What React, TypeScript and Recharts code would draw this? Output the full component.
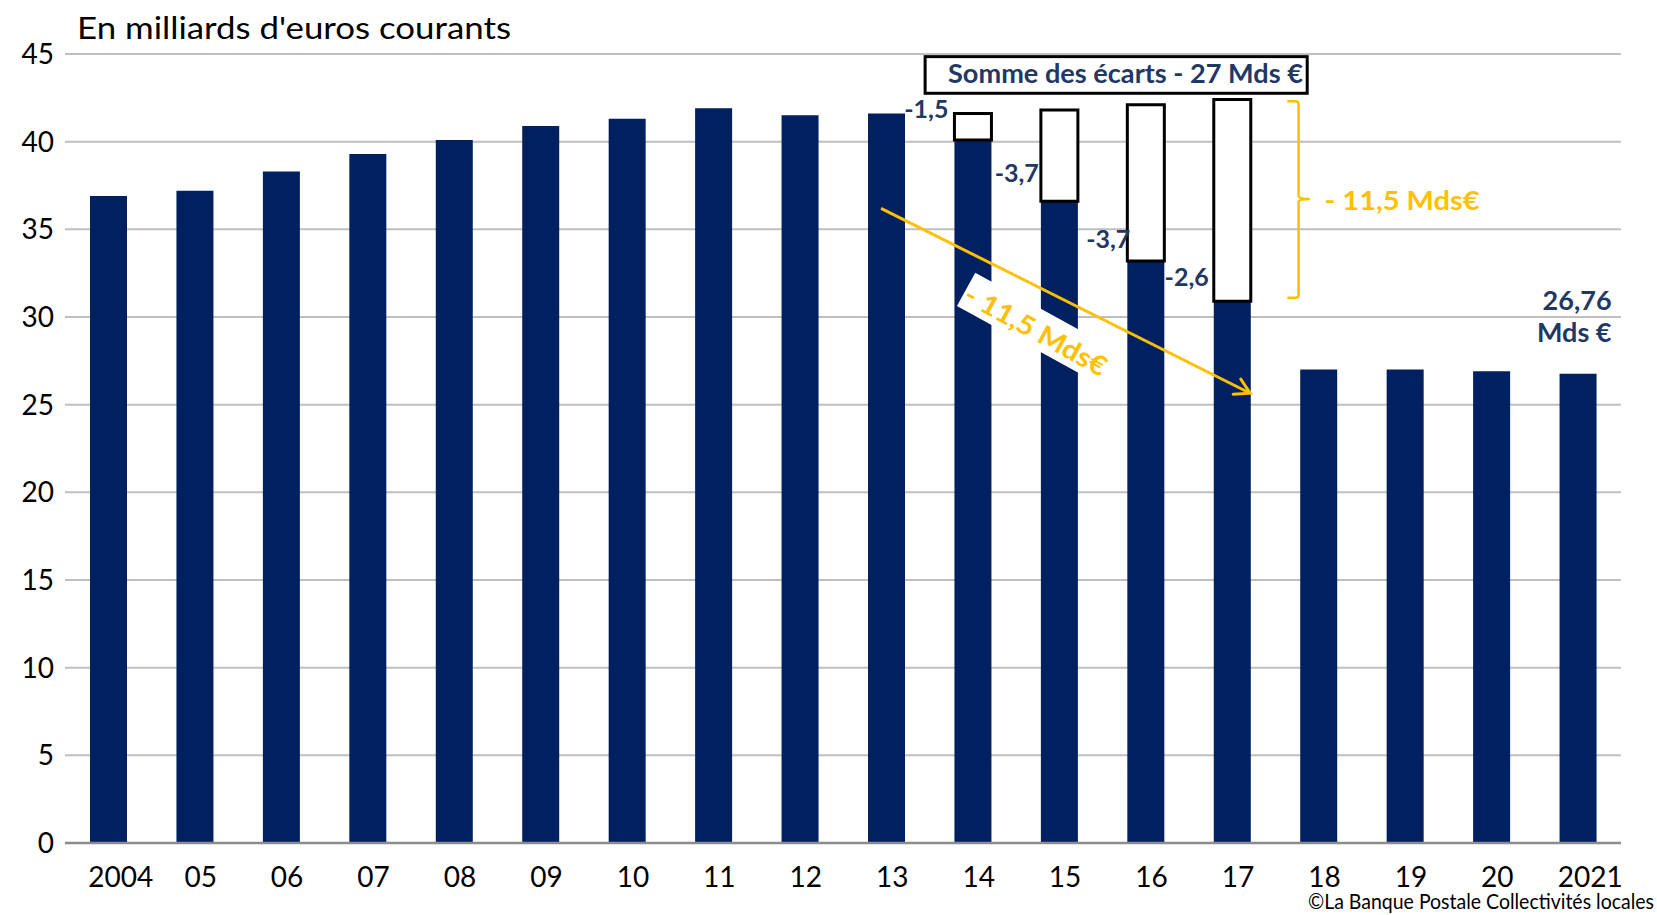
import React from 'react';
import { BarChart, Bar, XAxis, YAxis, CartesianGrid, LabelList } from 'recharts';

// ---------- data ----------
const years = ['2004', '05', '06', '07', '08', '09', '10', '11', '12', '13', '14', '15', '16', '17', '18', '19', '20', '2021'];
const depenses = [36.9, 37.2, 38.3, 39.3, 40.1, 40.9, 41.3, 41.9, 41.5, 41.6, 40.1, 36.6, 33.2, 30.9, 27.0, 27.0, 26.9, 26.76];
const ecartsCumules = [null, null, null, null, null, null, null, null, null, null, 1.5, 5.2, 8.9, 11.5, null, null, null, null];
const ecartsAnnuels = [null, null, null, null, null, null, null, null, null, null, -1.5, -3.7, -3.7, -2.6, null, null, null, null];
const yTicks = [0, 5, 10, 15, 20, 25, 30, 35, 40, 45];

const data = years.map((y, i) => ({ year: y, idx: i, value: depenses[i], gap: ecartsCumules[i] }));

// ---------- layout / style ----------
const W = 1657;
const H = 915;
const M = { top: 54, right: 36, bottom: 42, left: 5 };
const Y_AXIS_W = 60;
const X_AXIS_H = 30;
const PLOT = { left: M.left + Y_AXIS_W, top: M.top, right: W - M.right, bottom: H - M.bottom - X_AXIS_H };
const Y_MAX = 45;
const BAND = (PLOT.right - PLOT.left) / years.length;
const toX = (i: number) => PLOT.left + (i + 0.5) * BAND;
const toY = (v: number) => PLOT.bottom - (v / Y_MAX) * (PLOT.bottom - PLOT.top);

const NAVY = '#002060';
const LABEL = '#1F3864';
const GOLD = '#FFC000';
const FONT = 'Lato, "Open Sans", sans-serif';

const fmt = (v: number) => v.toFixed(1).replace('.', ',');

// per-label nudges (px) for the yearly gap labels
const gapLabelDx: Record<number, number> = { 10: -6, 11: -2, 12: 3, 13: -5 };
const gapLabelDy: Record<number, number> = { 10: -22, 11: -19, 12: -13, 13: -15 };

const XTick = (props: any) => {
  const { x, y, payload } = props;
  const s = String(payload.value);
  const dx = s.length === 4 ? 12.5 : 6;
  return (
    <text x={x + dx} y={y + 44} textAnchor="middle" fontFamily={FONT} fontSize={28} fill="#000">
      {s}
    </text>
  );
};

const GapLabel = (props: any) => {
  const index = Number(props.value);
  const vb = props.viewBox || props;
  if (!Number.isFinite(index)) return null;
  const v = ecartsAnnuels[index];
  if (v == null) return null;
  const bottom = vb.y + vb.height;
  return (
    <text
      x={vb.x + (gapLabelDx[index] ?? -3)}
      y={bottom + (gapLabelDy[index] ?? -17)}
      textAnchor="end"
      fontFamily={FONT}
      fontWeight={700}
      fontSize={25}
      fill={LABEL}
    >
      {fmt(v)}
    </text>
  );
};

const LastLabel = (props: any) => {
  const index = Number(props.value);
  const vb = props.viewBox || props;
  if (index !== years.length - 1) return null;
  const xr = vb.x + vb.width + 15;
  return (
    <text textAnchor="end" fontFamily={FONT} fontWeight={700} fontSize={27} fill={LABEL}>
      <tspan x={xr} y={vb.y - 63.5}>{String(depenses[index]).replace('.', ',')}</tspan>
      <tspan x={xr} y={vb.y - 31.5}>Mds €</tspan>
    </text>
  );
};

// annotation anchors expressed in chart space (category index, value)
const ANN = {
  somme: { i0: 9.45, i1: 13.87, v0: 44.85, v1: 42.76, textV: 43.35 },
  bracket: { i: 13.77, hook: 13.64, spur: 13.9, vTop: 42.3, vBot: 31.1, vMid: 36.73 },
  bracketText: { i: 14.07, v: 36.1 },
  arrow: { i0: 8.94, v0: 36.2, i1: 13.21, v1: 25.65 },
  rotLabel: { i: 10.03, v: 32.53, angle: 28.8 },
};

const Overlay = () => {
  const s = ANN.somme;
  const sx0 = toX(s.i0), sx1 = toX(s.i1), sy0 = toY(s.v0), sy1 = toY(s.v1);
  const b = ANN.bracket;
  const bx = toX(b.i), bh = toX(b.hook), bs = toX(b.spur);
  const byT = toY(b.vTop), byB = toY(b.vBot), byM = toY(b.vMid);
  const a = ANN.arrow;
  const ax0 = toX(a.i0), ay0 = toY(a.v0), ax1 = toX(a.i1), ay1 = toY(a.v1);
  const ang = Math.atan2(ay1 - ay0, ax1 - ax0);
  const headLen = 17;
  const h1x = ax1 - headLen * Math.cos(ang - Math.PI / 6);
  const h1y = ay1 - headLen * Math.sin(ang - Math.PI / 6);
  const h2x = ax1 - headLen * Math.cos(ang + Math.PI / 6);
  const h2y = ay1 - headLen * Math.sin(ang + Math.PI / 6);
  const r = ANN.rotLabel;
  const rx = toX(r.i), ry = toY(r.v);
  return (
    <svg width={W} height={H} style={{ position: 'absolute', left: 0, top: 0, pointerEvents: 'none' }}>
      <text x={77} y={39} fontFamily={FONT} fontSize={31} fill="#000" textLength={434} lengthAdjust="spacingAndGlyphs">
        En milliards d'euros courants
      </text>

      <rect x={sx0} y={sy0} width={sx1 - sx0} height={sy1 - sy0} fill="#fff" stroke="#000" strokeWidth={3} />
      <text
        x={(948 + 1303) / 2}
        y={toY(s.textV)}
        textAnchor="middle"
        fontFamily={FONT}
        fontWeight={700}
        fontSize={26}
        fill={LABEL}
        textLength={355}
        lengthAdjust="spacingAndGlyphs"
      >
        Somme des écarts - 27 Mds €
      </text>

      <path
        d={`M ${bh} ${byT} L ${bx - 3} ${byT} Q ${bx} ${byT} ${bx} ${byT + 3} L ${bx} ${byM - 3} Q ${bx} ${byM} ${bs} ${byM} Q ${bx} ${byM} ${bx} ${byM + 3} L ${bx} ${byB - 3} Q ${bx} ${byB} ${bx - 3} ${byB} L ${bh} ${byB}`}
        fill="none"
        stroke={GOLD}
        strokeWidth={2.5}
      />
      <text
        x={toX(ANN.bracketText.i)}
        y={toY(ANN.bracketText.v)}
        fontFamily={FONT}
        fontWeight={700}
        fontSize={27}
        fill={GOLD}
        textLength={155}
        lengthAdjust="spacingAndGlyphs"
      >
        - 11,5 Mds€
      </text>

      <line x1={ax0} y1={ay0} x2={ax1} y2={ay1} stroke={GOLD} strokeWidth={3} />
      <polyline points={`${h1x},${h1y} ${ax1},${ay1} ${h2x},${h2y}`} fill="none" stroke={GOLD} strokeWidth={3} strokeLinecap="round" />

      <g transform={`translate(${rx} ${ry}) rotate(${r.angle})`}>
        <rect x={0} y={0} width={165} height={38} fill="#fff" />
        <text x={2} y={31} fontFamily={FONT} fontWeight={700} fontSize={27} fill={GOLD} textLength={158} lengthAdjust="spacingAndGlyphs">
          - 11,5 Mds€
        </text>
      </g>

      <text x={1308} y={909} fontFamily={FONT} fontSize={21} fill="#000" textLength={346} lengthAdjust="spacingAndGlyphs">
        ©La Banque Postale Collectivités locales
      </text>
    </svg>
  );
};

export default function App() {
  return (
    <div style={{ position: 'absolute', left: 0, top: 0, width: W, height: H, background: '#fff' }}>
      <BarChart width={W} height={H} data={data} margin={M} barSize={37}>
        <CartesianGrid vertical={false} stroke="#BFBFBF" strokeWidth={2} />
        <YAxis
          type="number"
          domain={[0, Y_MAX]}
          ticks={yTicks}
          width={Y_AXIS_W}
          axisLine={false}
          tickLine={false}
          tickSize={0}
          tickMargin={11}
          interval={0}
          tick={{ fontFamily: FONT, fontSize: 28, fill: '#000' }}
        />
        <XAxis
          dataKey="year"
          height={X_AXIS_H}
          interval={0}
          tickLine={false}
          tickSize={0}
          tickMargin={0}
          axisLine={{ stroke: '#8C8C8C', strokeWidth: 2.5 }}
          tick={<XTick />}
        />
        <Bar dataKey="value" stackId="a" fill={NAVY} isAnimationActive={false}>
          <LabelList dataKey="idx" content={<LastLabel />} />
        </Bar>
        <Bar dataKey="gap" stackId="a" fill="#fff" stroke="#000" strokeWidth={3} isAnimationActive={false}>
          <LabelList dataKey="idx" content={<GapLabel />} />
        </Bar>
      </BarChart>
      <Overlay />
    </div>
  );
}
